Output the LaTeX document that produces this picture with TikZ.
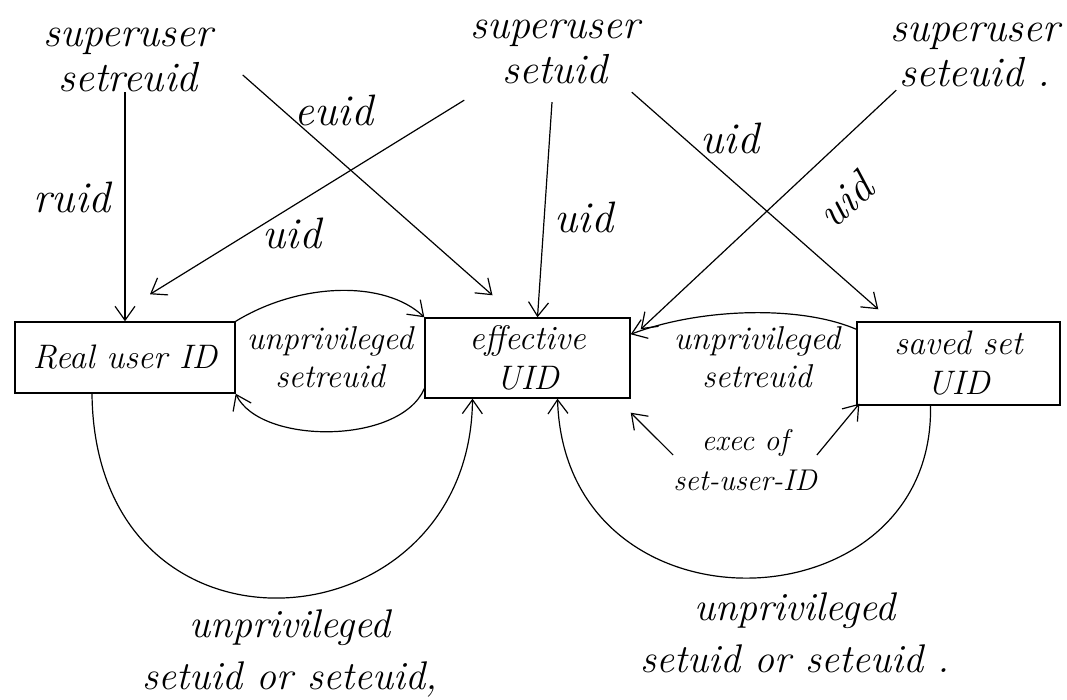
\documentclass[tikz,border=0pt]{standalone}
\usepackage{fontspec}
\usetikzlibrary{arrows.meta}
\begin{document}
\begin{tikzpicture}[x=1pt,y=1pt,
  idbox/.style={draw, line width=1.4pt, inner sep=0pt, align=center,
    font=\fontsize{34}{40}\selectfont\itshape},
  src/.style={align=center, inner sep=0pt, font=\fontsize{42}{45}\selectfont\itshape},
  elbl/.style={inner sep=0pt, font=\fontsize{44}{48}\selectfont\itshape},
  midlbl/.style={align=center, inner sep=0pt, font=\fontsize{33}{38}\selectfont\itshape},
  execlbl/.style={align=center, inner sep=0pt, font=\fontsize{30}{40}\selectfont\itshape},
  botlbl/.style={align=center, inner sep=0pt, font=\fontsize{40}{52}\selectfont\itshape},
  arr/.style={line width=1.2pt, -{Straight Barb[length=14pt,width=20pt,line width=1.2pt]}}]
\useasboundingbox (0,0) rectangle (1067,700);

% the three user IDs
\node[idbox, minimum width=220pt, minimum height=71pt] (real) at (125,342.5) {Real user ID};
\node[idbox, minimum width=205pt, minimum height=80pt] (eff) at (527.5,342) {effective\\UID};
\node[idbox, minimum width=203pt, minimum height=83pt] (saved) at (958.5,336.5) {saved set\\UID};

% superuser calls
\node[src] (su1) at (128,640) {superuser\\setreuid};
\node[src] (su2) at (555,648) {superuser\\setuid};
\node[src] (su3) at (975,645) {superuser\\seteuid .};

% superuser transitions
\draw[arr] (su1.south -| real.north) -- (real.north);
\draw[arr] ([xshift=30pt,yshift=-15pt]su1.east) -- ([xshift=-35pt,yshift=22pt]eff.north);
\draw[arr] ([xshift=-6pt,yshift=-16pt]su2.south west) -- ([xshift=25pt,yshift=27pt]real.north);
\draw[arr] ([xshift=-3pt,yshift=-18pt]su2.south) -- ([xshift=10pt]eff.north);
\draw[arr] ([xshift=-8pt,yshift=-8pt]su2.south east) -- ([xshift=22pt,yshift=12pt]saved.north west);
\draw[arr] ([xshift=6pt,yshift=-3pt]su3.south west) -- ([xshift=10pt,yshift=-12pt]eff.north east);

\node[elbl] (lruid) at (72,503) {ruid};
\node[elbl] (leuid) at (334,590) {euid};
\node[elbl] (luidr) at (292,467) {uid};
\node[elbl] (luide) at (584,483) {uid};
\node[elbl] (luids) at (730,562) {uid};
\node[elbl, rotate=42] (luidx) at (845,500) {uid};

% unprivileged setreuid between real and effective
\draw[arr] (real.north east) .. controls (300,418) and (385,420) .. (eff.north west);
\draw[arr] ([yshift=10pt]eff.south west) .. controls (400,255) and (260,255) .. (real.south east);
\node[midlbl] (sre1) at (330,343) {unprivileged\\setreuid};

% unprivileged setreuid from saved set to effective
\draw[arr] ([yshift=-8pt]saved.north west) .. controls (800,395) and (700,392) .. ([yshift=-17pt]eff.north east);
\node[midlbl] (sre2) at (757,343) {unprivileged\\setreuid};

% exec of set-user-ID
\node[execlbl] (exec) at (745,240) {exec of\\set-user-ID};
\draw[arr] ([yshift=5pt]exec.west) -- ([yshift=-14pt]eff.south east);
\draw[arr] ([yshift=5pt]exec.east) -- ([xshift=3pt,yshift=2pt]saved.south west);

% unprivileged setuid / seteuid loops
\draw[arr] ([xshift=-33pt]real.south) .. controls (95,20) and (470,50) .. ([xshift=-55pt]eff.south);
\draw[arr] ([xshift=-28pt]saved.south) .. controls (935,70) and (565,57) .. ([xshift=30pt]eff.south);
\node[botlbl] (bot1) at (290,47) {unprivileged\\setuid or seteuid,};
\node[botlbl] (bot2) at (795,67) {unprivileged\\setuid or seteuid .};
\end{tikzpicture}
\end{document}
